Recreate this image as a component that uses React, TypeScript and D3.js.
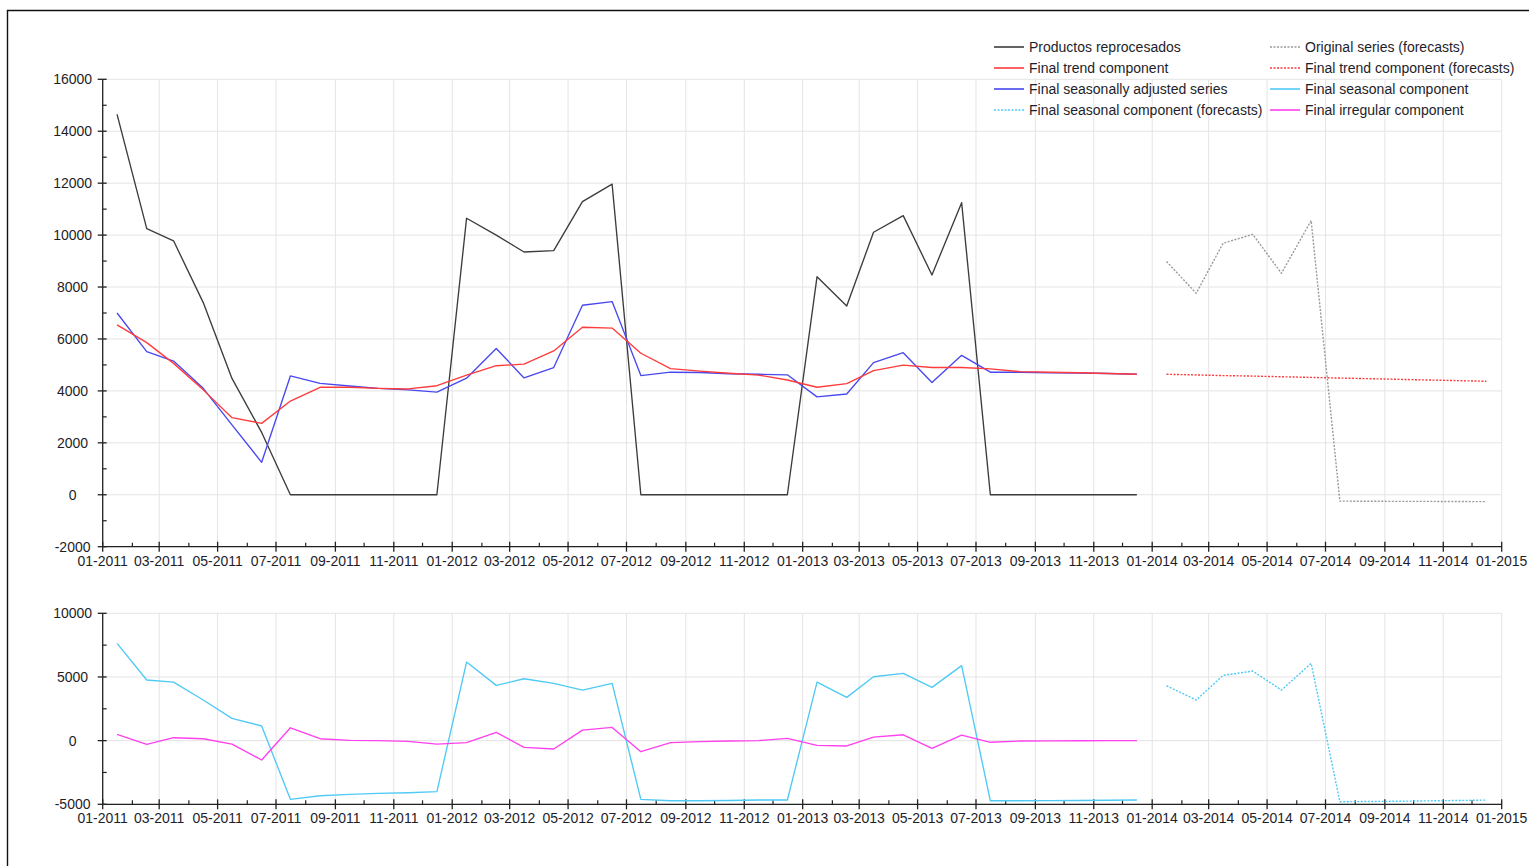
import React from 'react';
import * as d3 from 'd3';

// Monthly observations, 01-2011 .. 12-2013
const original = [
  14650, 10250, 9780, 7400, 4480, 2400, 0, 0, 0, 0, 0, 0,
  10650, 10000, 9350, 9400, 11290, 11960, 0, 0, 0, 0, 0, 0,
  8400, 7270, 10110, 10750, 8465, 11250, 0, 0, 0, 0, 0, 0,
];
const trend = [
  6540, 5860, 5060, 4040, 2970, 2750, 3610, 4140, 4140, 4100, 4075, 4200,
  4610, 4970, 5030, 5540, 6450, 6420, 5450, 4860, 4760, 4680, 4610, 4420,
  4140, 4280, 4780, 4990, 4900, 4900, 4850, 4740, 4720, 4700, 4670, 4640,
];
const seasAdj = [
  7000, 5510, 5150, 4100, 2690, 1250, 4575, 4290, 4190, 4100, 4040, 3950,
  4490, 5630, 4500, 4900, 7300, 7440, 4590, 4720, 4710, 4660, 4640, 4620,
  3770, 3880, 5090, 5470, 4320, 5370, 4720, 4720, 4700, 4690, 4670, 4640,
];
const seasonal = [
  7640, 4760, 4600, 3190, 1750, 1150, -4610, -4330, -4220, -4140, -4090, -4010,
  6170, 4340, 4860, 4500, 3970, 4500, -4610, -4720, -4720, -4700, -4665, -4665,
  4600, 3400, 5020, 5280, 4185, 5890, -4720, -4720, -4710, -4700, -4680, -4665,
];
const irregular = [
  490, -290, 230, 150, -270, -1520, 1010, 150, 20, 0, -55, -270,
  -160, 650, -530, -660, 830, 1040, -870, -160, -80, -30, 0, 180,
  -370, -420, 280, 460, -610, 440, -130, -30, -20, -10, 0, 0,
];

// Forecasts, 01-2014 .. 12-2014
const originalFc = [8980, 7760, 9685, 10030, 8530, 10560, -245, -250, -255, -255, -260, -265];
const trendFc = [4640, 4615, 4590, 4570, 4545, 4520, 4495, 4470, 4445, 4420, 4395, 4370];
const seasonalFc = [4310, 3190, 5125, 5465, 3970, 6070, -4800, -4780, -4760, -4730, -4700, -4670];

const topTicks = [-2000, 0, 2000, 4000, 6000, 8000, 10000, 12000, 14000, 16000];
const bottomTicks = [-5000, 0, 5000, 10000];

const legendItems = [
  { label: 'Productos reprocesados', color: '#3c3c3c', dash: '' },
  { label: 'Original series (forecasts)', color: '#9a9a9a', dash: '2,1.5' },
  { label: 'Final trend component', color: '#ff3b3b', dash: '' },
  { label: 'Final trend component (forecasts)', color: '#ff3b3b', dash: '2,1.5' },
  { label: 'Final seasonally adjusted series', color: '#4848f0', dash: '' },
  { label: 'Final seasonal component', color: '#4fcaf5', dash: '' },
  { label: 'Final seasonal component (forecasts)', color: '#4fcaf5', dash: '2,1.5' },
  { label: 'Final irregular component', color: '#ff40ee', dash: '' },
];

const FONT = '"Liberation Sans", Arial, sans-serif';
const FS = 14;
const TEXT = '#1e1e2a';
const GRID = '#e4e4e4';
const AXIS = '#222';
const Y_LABEL_CENTER = 72.6;

const monthDate = (startYear: number, i: number) => new Date(startYear, i, 16);

type Pt = { d: Date; v: number };
const toPts = (vals: number[], startYear: number): Pt[] =>
  vals.map((v, i) => ({ d: monthDate(startYear, i), v }));

const x = d3
  .scaleTime()
  .domain([new Date(2011, 0, 1), new Date(2015, 0, 1)])
  .range([102.7, 1501.7]);

const yTop = d3.scaleLinear().domain([-2000, 16000]).range([546.7, 79.3]);
const yBot = d3.scaleLinear().domain([-5000, 10000]).range([804.3, 613.3]);

const majorTicks = d3.timeMonth.every(2)!.range(new Date(2011, 0, 1), new Date(2015, 0, 2));
const allMonths = d3.timeMonth.range(new Date(2011, 0, 1), new Date(2015, 0, 2));
const minorTicks = allMonths.filter((d) => d.getMonth() % 2 === 1);
const fmt = d3.timeFormat('%m-%Y');

function Panel({
  y,
  ticks,
  minorStep,
}: {
  y: d3.ScaleLinear<number, number>;
  ticks: number[];
  minorStep: number;
}) {
  const [d0, d1] = y.domain();
  const x0 = x.range()[0];
  const x1 = x.range()[1];
  const yb = y(d0);
  const yt = y(d1);
  const minorY = d3.range(d0, d1 + 1, minorStep).filter((v) => !ticks.includes(v));
  return (
    <g>
      {/* grid */}
      {ticks.map((t) => (
        <line key={'gh' + t} x1={x0} x2={x1} y1={y(t)} y2={y(t)} stroke={GRID} strokeWidth={1} />
      ))}
      {majorTicks.map((d) => (
        <line key={'gv' + d.getTime()} x1={x(d)} x2={x(d)} y1={yt} y2={yb} stroke={GRID} strokeWidth={1} />
      ))}
      {/* y axis */}
      <line x1={x0} x2={x0} y1={yt} y2={yb} stroke={AXIS} strokeWidth={1.3} />
      {ticks.map((t) => (
        <g key={'yt' + t}>
          <line x1={x0 - 5} x2={x0 + 4} y1={y(t)} y2={y(t)} stroke={AXIS} strokeWidth={1.3} />
          <text
            x={Y_LABEL_CENTER}
            y={y(t) + 5}
            textAnchor="middle"
            fontFamily={FONT}
            fontSize={FS}
            fill={TEXT}
          >
            {t}
          </text>
        </g>
      ))}
      {minorY.map((t) => (
        <line key={'ym' + t} x1={x0} x2={x0 + 4} y1={y(t)} y2={y(t)} stroke={AXIS} strokeWidth={1.2} />
      ))}
      {/* x axis */}
      <line x1={x0} x2={x1} y1={yb} y2={yb} stroke={AXIS} strokeWidth={1.3} />
      {majorTicks.map((d) => (
        <g key={'xt' + d.getTime()}>
          <line x1={x(d)} x2={x(d)} y1={yb - 5} y2={yb + 5} stroke={AXIS} strokeWidth={1.3} />
          <text
            x={x(d)}
            y={yb + 19}
            textAnchor="middle"
            fontFamily={FONT}
            fontSize={FS}
            fill={TEXT}
          >
            {fmt(d)}
          </text>
        </g>
      ))}
      {minorTicks.map((d) => (
        <line key={'xm' + d.getTime()} x1={x(d)} x2={x(d)} y1={yb - 4} y2={yb} stroke={AXIS} strokeWidth={1.2} />
      ))}
    </g>
  );
}

function Series({
  pts,
  y,
  color,
  dash,
}: {
  pts: Pt[];
  y: d3.ScaleLinear<number, number>;
  color: string;
  dash?: string;
}) {
  const gen = d3
    .line<Pt>()
    .x((p) => x(p.d))
    .y((p) => y(p.v));
  return (
    <path
      d={gen(pts) || ''}
      fill="none"
      stroke={color}
      strokeWidth={dash ? 1.4 : 1.35}
      strokeDasharray={dash || undefined}
      strokeLinejoin="round"
    />
  );
}

export default function App() {
  const c = Object.fromEntries(legendItems.map((l) => [l.label, l]));
  return (
    <svg
      width={1529}
      height={866}
      style={{ position: 'absolute', left: 0, top: 0, background: '#fff' }}
    >
      <rect x={0} y={0} width={1529} height={866} fill="#fff" />
      {/* outer frame */}
      <path d="M7.5,870 L7.5,10.5 L1535,10.5" fill="none" stroke="#111" strokeWidth={1.4} />

      <Panel y={yTop} ticks={topTicks} minorStep={1000} />
      <Panel y={yBot} ticks={bottomTicks} minorStep={2500} />

      {/* upper panel */}
      <Series pts={toPts(original, 2011)} y={yTop} color={c['Productos reprocesados'].color} />
      <Series pts={toPts(seasAdj, 2011)} y={yTop} color={c['Final seasonally adjusted series'].color} />
      <Series pts={toPts(trend, 2011)} y={yTop} color={c['Final trend component'].color} />
      <Series
        pts={toPts(originalFc, 2014)}
        y={yTop}
        color={c['Original series (forecasts)'].color}
        dash="2,1.5"
      />
      <Series
        pts={toPts(trendFc, 2014)}
        y={yTop}
        color={c['Final trend component (forecasts)'].color}
        dash="2,1.5"
      />

      {/* lower panel */}
      <Series pts={toPts(seasonal, 2011)} y={yBot} color={c['Final seasonal component'].color} />
      <Series pts={toPts(irregular, 2011)} y={yBot} color={c['Final irregular component'].color} />
      <Series
        pts={toPts(seasonalFc, 2014)}
        y={yBot}
        color={c['Final seasonal component (forecasts)'].color}
        dash="2,1.5"
      />

      {/* legend */}
      {legendItems.map((l, i) => {
        const col = i % 2;
        const row = Math.floor(i / 2);
        const lx = col === 0 ? 994 : 1270;
        const ly = 47 + row * 21;
        return (
          <g key={l.label}>
            <line
              x1={lx}
              x2={lx + 30}
              y1={ly}
              y2={ly}
              stroke={l.color}
              strokeWidth={l.dash ? 1.4 : 1.6}
              strokeDasharray={l.dash || undefined}
            />
            <text x={lx + 35} y={ly + 5} fontFamily={FONT} fontSize={FS} fill={TEXT}>
              {l.label}
            </text>
          </g>
        );
      })}
    </svg>
  );
}
